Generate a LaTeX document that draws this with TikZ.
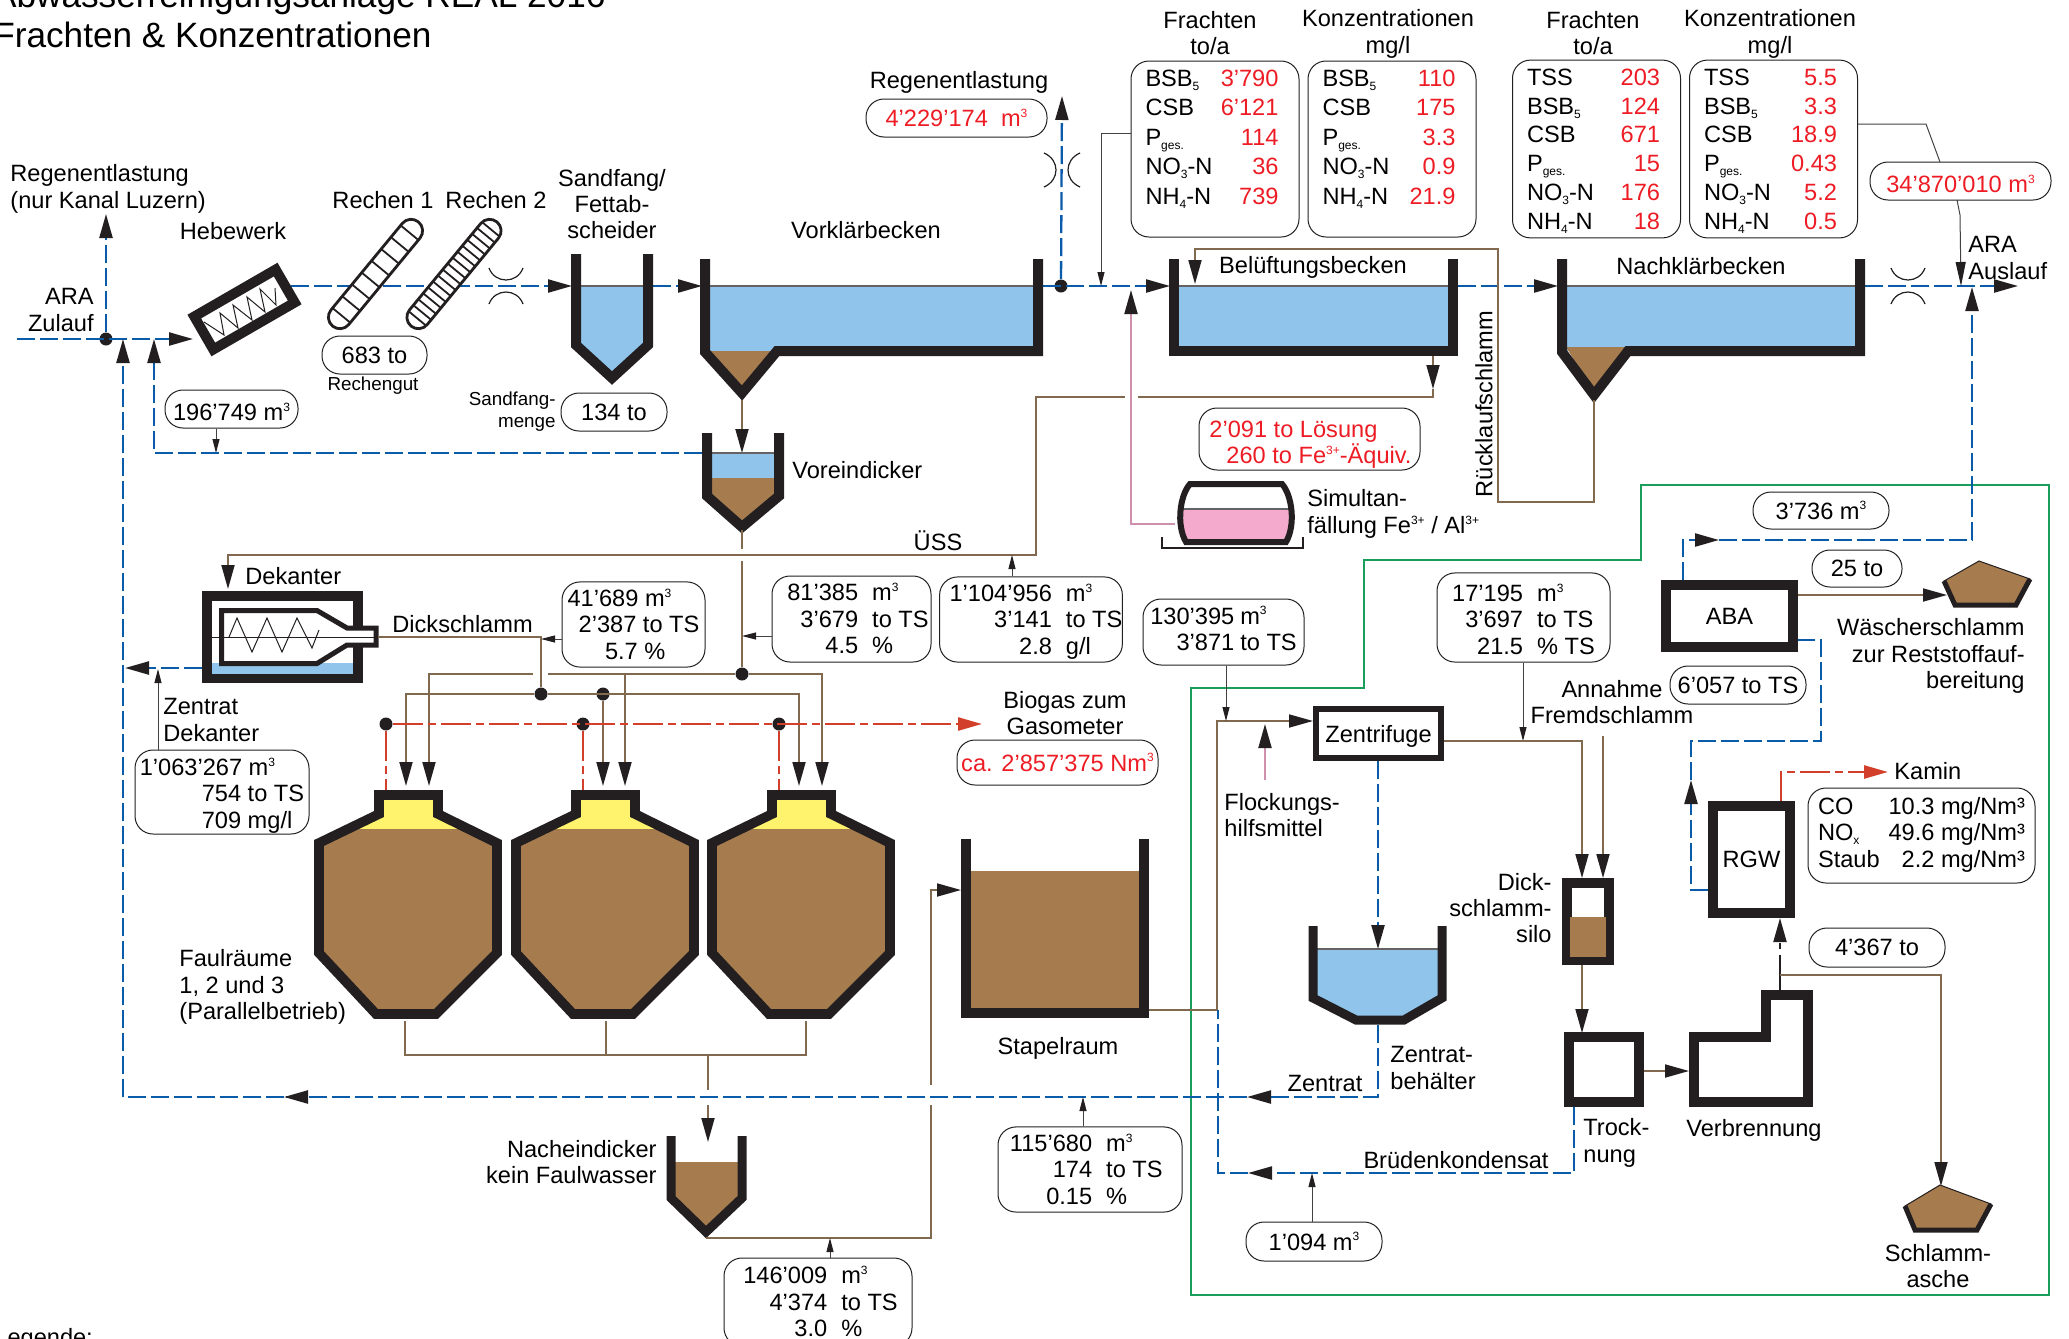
\documentclass[tikz,border=0pt]{standalone}
\usepackage{fontspec}
\setmainfont{Liberation Sans}
\usetikzlibrary{arrows.meta}
\definecolor{tusche}{HTML}{231F20}
\definecolor{wasserblau}{HTML}{90C4EA}
\definecolor{schlammbraun}{HTML}{A67C4E}
\definecolor{gasgelb}{HTML}{FFF36D}
\definecolor{fellrosa}{HTML}{F4AACC}
\definecolor{wertrot}{HTML}{ED1C24}
\definecolor{gasrot}{HTML}{D2402C}
\definecolor{leitblau}{HTML}{0A5BAA}
\definecolor{leitbraun}{HTML}{80694F}
\definecolor{rahmengruen}{HTML}{1A9E5C}
\newcommand{\wert}[1]{\textcolor{wertrot}{#1}}
\newcommand{\hoch}[1]{\raisebox{4.6pt}{\fontsize{6}{6}\selectfont #1}}
\newcommand{\tief}[1]{\raisebox{-2pt}{\fontsize{6}{6}\selectfont #1}}
\begin{document}
\begin{tikzpicture}[
    x=0.5pt,
    y=-0.5pt,
    >={Triangle[length=12pt,width=6.5pt,color=tusche]},
    font=\fontsize{11.8}{13.2}\selectfont,
    becken/.style={
        draw=tusche,
        line width=5pt,
        line join=miter
    },
    einheit/.style={
        draw=tusche,
        line width=5pt,
        fill=white,
        inner sep=0pt,
        align=center
    },
    wasser/.style={fill=wasserblau},
    schlamm/.style={fill=schlammbraun},
    pegel/.style={draw=tusche!70,line width=0.6pt},
    blauleitung/.style={
        draw=leitblau,
        line width=1.15pt,
        dash pattern=on 9pt off 2.5pt
    },
    braunleitung/.style={draw=leitbraun,line width=0.9pt},
    gasleitung/.style={
        draw=gasrot,
        line width=1.3pt,
        dash pattern=on 15pt off 2.5pt on 4pt off 2.5pt
    },
    fuehrung/.style={
        draw=tusche!85,
        line width=0.5pt,
        -{Triangle[length=7pt,width=3.5pt,color=tusche]}
    },
    wertbox/.style={
        draw=tusche,
        line width=0.5pt,
        rounded corners=9pt,
        inner sep=0pt,
        align=center
    },
    lastbox/.style={
        wertbox,
        minimum width=84pt,
        minimum height=88pt,
        font=\fontsize{11.8}{14.75}\selectfont
    },
    rechen/.style={
        draw=tusche,
        line width=1.4pt,
        fill=white,
        rounded corners=5.75pt,
        rotate=50.5,
        minimum width=67.5pt,
        minimum height=11.5pt,
        inner sep=0pt
    },
    etikett/.style={inner sep=0pt,align=center},
    links/.style={inner sep=0pt,align=left,anchor=west},
    rechts/.style={inner sep=0pt,align=right,anchor=east},
    klein/.style={font=\fontsize{9.4}{11}\selectfont},
    punkt/.style={
        circle,
        fill=tusche,
        inner sep=0pt,
        minimum size=6.5pt
    },
    titel/.style={
        inner sep=0pt,
        anchor=base east,
        font=\fontsize{17.6}{20}\selectfont
    }
]
    \useasboundingbox (0,0) rectangle (2069,1339);

    \node[titel] (titel-a) at (606,7) {Abwasserreinigungsanlage REAL 2016};
    \node[titel] (titel-b) at (432,47) {Frachten \& Konzentrationen};
    \node[inner sep=0pt,anchor=base west] (legende) at (-6,1345) {Legende:};

    \draw[rahmengruen,line width=1.3pt]
        (2049,485) -- (2049,1295) -- (1191,1295) -- (1191,688)
        -- (1364,688) -- (1364,560) -- (1641,560) -- (1641,485) -- cycle;

    \coordinate (zulauf) at (17,339);
    \coordinate (hebewerk-ein) at (193,339);
    \coordinate (hebewerk-aus) at (291,286);
    \coordinate (sandfang-ein) at (572,286);
    \coordinate (sandfang-aus) at (653,286);
    \coordinate (vorklaer-ein) at (702,286);
    \coordinate (vorklaer-aus) at (1043,286);
    \coordinate (belueft-ein) at (1170,286);
    \coordinate (belueft-aus) at (1458,286);
    \coordinate (nachklaer-ein) at (1558,286);
    \coordinate (nachklaer-aus) at (1865,286);
    \coordinate (auslauf) at (2018,286);
    \coordinate (entl-kanal) at (106,214);
    \coordinate (entl-regen) at (1062,96);
    \coordinate (voreind-ein) at (702,453);
    \coordinate (rueck-hebewerk) at (154,339);
    \coordinate (rueck-zulauf) at (123,339);
    \coordinate (rueck-ecke) at (123,1097);
    \coordinate (dek-zentrat) at (202,668);
    \coordinate (dek-zentrat-ziel) at (125,668);
    \coordinate (zentrat-behaelter) at (1378,1025);
    \coordinate (zentrat-ziel) at (1378,1097);

    \node[punkt] (knoten-zulauf) at (106,339) {};
    \node[punkt] (knoten-regen) at (1061,286) {};

    \draw[blauleitung,->] (zulauf) -- (hebewerk-ein);
    \draw[blauleitung,->] (knoten-zulauf) -- (entl-kanal);
    \draw[blauleitung,->] (knoten-regen) -- (entl-regen);
    \draw[blauleitung,->] (hebewerk-aus) -- (sandfang-ein);
    \draw[blauleitung,->] (sandfang-aus) -- (vorklaer-ein);
    \draw[blauleitung,->] (vorklaer-aus) -- (belueft-ein);
    \draw[blauleitung,->] (belueft-aus) -- (nachklaer-ein);
    \draw[blauleitung,->] (nachklaer-aus) -- (auslauf);
    \draw[blauleitung,->] (voreind-ein) -- (154,453) -- (rueck-hebewerk);
    \draw[blauleitung,->] (rueck-ecke) -- (rueck-zulauf);
    \draw[blauleitung,->] (zentrat-behaelter) -- (zentrat-ziel) -- (1247,1097);
    \draw[blauleitung] (1247,1097) -- (284,1097);
    \draw[blauleitung,<-] (284,1097) -- (300,1097);
    \draw[blauleitung] (284,1097) -- (rueck-ecke);
    \draw[blauleitung,->] (dek-zentrat) -- (dek-zentrat-ziel);

    \draw[tusche,line width=0.6pt] (489,268) .. controls (495,284) and (517,284) .. (523,268);
    \draw[tusche,line width=0.6pt] (489,304) .. controls (495,288) and (517,288) .. (523,304);
    \draw[tusche,line width=0.6pt] (1891,268) .. controls (1897,284) and (1919,284) .. (1925,268);
    \draw[tusche,line width=0.6pt] (1891,304) .. controls (1897,288) and (1919,288) .. (1925,304);
    \draw[tusche,line width=0.6pt] (1044,153) .. controls (1060,160) and (1060,180) .. (1044,187);
    \draw[tusche,line width=0.6pt] (1080,153) .. controls (1064,160) and (1064,180) .. (1080,187);

    \node[einheit,rotate=30,minimum width=47pt,minimum height=19pt]
        (hebewerk) at (244.5,309.5) {};
    \draw[tusche,line width=0.5pt]
        (204,322) -- (224,335) -- (220,313) -- (238,328) -- (233,305) -- (252,320)
        -- (247,297) -- (265,312) -- (260,289) -- (276,305) -- (275,288);

    \node[rechen] (rechen-a) at (375.5,274) {};
    \node[rechen] (rechen-b) at (454,274) {};
    \begin{scope}[shift={(375.5,274)},rotate=50.5]
        \foreach \i in {-53.6,-38.3,...,54}
            \draw[tusche,line width=0.9pt] (\i,-11.5) -- (\i,11.5);
    \end{scope}
    \begin{scope}[shift={(454,274)},rotate=50.5]
        \foreach \i in {-57.6,-49.9,...,58}
            \draw[tusche,line width=0.9pt] (\i,-11.5) -- (\i,11.5);
    \end{scope}

    \fill[wasser] (576,286) -- (648,286) -- (648,345) -- (612,378) -- (576,345) -- cycle;
    \draw[pegel] (576,286) -- (648,286);
    \draw[becken] (576,254) -- (576,345) -- (612,378) -- (648,345) -- (648,254);

    \fill[wasser] (705,286) -- (1038,286) -- (1038,351) -- (705,351) -- cycle;
    \fill[schlamm] (708,351) -- (776,351) -- (742,392) -- cycle;
    \draw[pegel] (705,286) -- (1038,286);
    \draw[becken] (705,259) -- (705,352) -- (742,393) -- (777,351) -- (1038,351) -- (1038,259);

    \coordinate (vorklaer-ab) at (742,400);
    \coordinate (voreind-zu) at (742,453);
    \draw[braunleitung,->] (vorklaer-ab) -- (voreind-zu);

    \fill[wasser] (707,453) -- (779,453) -- (779,478) -- (707,478) -- cycle;
    \fill[schlamm] (707,478) -- (779,478) -- (779,496) -- (742,527) -- (707,496) -- cycle;
    \draw[pegel] (707,453) -- (779,453);
    \draw[becken] (707,433) -- (707,496) -- (742,527) -- (779,496) -- (779,433);

    \fill[wasser] (1174,286) -- (1453,286) -- (1453,351) -- (1174,351) -- cycle;
    \draw[pegel] (1174,286) -- (1453,286);
    \draw[becken] (1174,259) -- (1174,351) -- (1453,351) -- (1453,259);

    \fill[wasser] (1562,286) -- (1860,286) -- (1860,351) -- (1562,351) -- cycle;
    \fill[schlamm] (1566,347) -- (1626,347) -- (1594,392) -- cycle;
    \draw[pegel] (1562,286) -- (1860,286);
    \draw[becken] (1562,259) -- (1562,352) -- (1594,395) -- (1628,351) -- (1860,351) -- (1860,259);

    \coordinate (nachklaer-ab) at (1594,400);
    \coordinate (ruecklauf-ziel) at (1195,284);
    \draw[braunleitung,->] (nachklaer-ab) -- (1594,502) -- (1498,502)
        -- (1498,249) -- (1195,249) -- (ruecklauf-ziel);

    \coordinate (uess-ab) at (1433,356);
    \coordinate (uess-spitze) at (1433,389);
    \coordinate (dekanter-ein) at (228,589);
    \draw[braunleitung,->] (uess-ab) -- (uess-spitze);
    \draw[braunleitung] (uess-spitze) -- (1433,397) -- (1138,397);
    \draw[braunleitung,->] (1125,397) -- (1036,397) -- (1036,555) -- (228,555) -- (dekanter-ein);

    \coordinate (tank-ab) at (1175,524);
    \coordinate (tank-ziel) at (1131,290);
    \draw[draw=fellrosa!85!black,line width=1pt,->] (tank-ab) -- (1131,524) -- (tank-ziel);

    \fill[fill=fellrosa] (1180,509) -- (1292,509) .. controls (1293,525) and (1291,535) .. (1287,541)
        -- (1186,541) .. controls (1181,535) and (1179,525) .. (1180,509) -- cycle;
    \draw[pegel] (1180,509) -- (1292,509);
    \draw[tusche,line width=3pt]
        (1190,484) -- (1282,484) .. controls (1292,495) and (1296,525) .. (1286,542)
        -- (1186,542) .. controls (1176,525) and (1180,495) .. (1190,484) -- cycle;
    \draw[tusche,line width=1pt] (1162,537) -- (1162,548) -- (1303,548) -- (1303,537);

    \node[lastbox] (frachten-a) at (1215,149)
        {\hspace*{-3pt}\begin{tabular*}{66.5pt}{@{}l@{\extracolsep{\fill}}r@{}}
         BSB\tief{5} & \wert{3'790}\\
         CSB & \wert{6'121}\\
         P\tief{ges.} & \wert{114}\\
         NO\tief{3}-N & \wert{36}\\
         NH\tief{4}-N & \wert{739}\\[-5pt]
         &
         \end{tabular*}};
    \node[lastbox] (konz-a) at (1392,149)
        {\hspace*{-3pt}\begin{tabular*}{66.5pt}{@{}l@{\extracolsep{\fill}}r@{}}
         BSB\tief{5} & \wert{110}\\
         CSB & \wert{175}\\
         P\tief{ges.} & \wert{3.3}\\
         NO\tief{3}-N & \wert{0.9}\\
         NH\tief{4}-N & \wert{21.9}\\[-5pt]
         &
         \end{tabular*}};
    \node[lastbox,font=\fontsize{11.8}{14.4}\selectfont] (frachten-b) at (1596.5,149)
        {\hspace*{-3pt}\begin{tabular*}{66.5pt}{@{}l@{\extracolsep{\fill}}r@{}}
         \rule{0pt}{12.6pt}TSS & \wert{203}\\
         BSB\tief{5} & \wert{124}\\
         CSB & \wert{671}\\
         P\tief{ges.} & \wert{15}\\
         NO\tief{3}-N & \wert{176}\\
         NH\tief{4}-N & \wert{18}
         \end{tabular*}};
    \node[lastbox,font=\fontsize{11.8}{14.4}\selectfont] (konz-b) at (1773.5,149)
        {\hspace*{-3pt}\begin{tabular*}{66.5pt}{@{}l@{\extracolsep{\fill}}r@{}}
         \rule{0pt}{12.6pt}TSS & \wert{5.5}\\
         BSB\tief{5} & \wert{3.3}\\
         CSB & \wert{18.9}\\
         P\tief{ges.} & \wert{0.43}\\
         NO\tief{3}-N & \wert{5.2}\\
         NH\tief{4}-N & \wert{0.5}
         \end{tabular*}};

    \node[etikett] (kopf-fa) at (1210,33) {Frachten\\to/a};
    \node[etikett] (kopf-ka) at (1388,34) {Konzentrationen\\mg/l};
    \node[etikett] (kopf-fb) at (1593,33) {Frachten\\to/a};
    \node[etikett] (kopf-kb) at (1770,34) {Konzentrationen\\mg/l};

    \coordinate (messung-ein) at (1101,286);
    \draw[fuehrung] (frachten-a.west |- 0,133) -- (1101,133) -- (messung-ein);

    \node[wertbox,minimum width=90.5pt,minimum height=19pt] (auslaufmenge) at (1960.5,181)
        {\rule{0pt}{11.5pt}\wert{34'870'010 m\hoch{3}}};
    \coordinate (messung-aus) at (1961,286);
    \draw[tusche!85,line width=0.5pt] (konz-b.east |- 0,124) -- (1926,124) -- (1940,162);
    \draw[fuehrung,-{Triangle[length=12pt,width=5pt,color=tusche]}]
        (1957,200) -- (1960,215) -- (messung-aus);

    \node[wertbox,minimum width=90.5pt,minimum height=19pt] (regenmenge) at (956.5,118)
        {\wert{4'229'174~ m\hoch{3}}};
    \node[wertbox,minimum width=52.5pt,minimum height=19pt] (rechengut) at (374.5,355) {683 to};
    \node[wertbox,minimum width=53pt,minimum height=19pt] (sandmenge) at (614,412) {134 to};
    \node[wertbox,minimum width=66.5pt,minimum height=19pt] (rueckmenge) at (231.5,409)
        {\rule{0pt}{11.5pt}196'749 m\hoch{3}};
    \coordinate (rueckmenge-ziel) at (216,453);
    \draw[fuehrung] (rueckmenge.south -| rueckmenge-ziel) -- (rueckmenge-ziel);

    \node[wertbox,minimum width=110.5pt,minimum height=31pt,align=left] (faellmittel) at (1309.5,439)
        {\rule{0pt}{14.2pt}\hspace*{1pt}\wert{2'091 to Lösung}\\\hspace*{9.5pt}\wert{260 to Fe\hoch{3+}-Äquiv.}};

    \node[etikett] (t-regen) at (959,82) {Regenentlastung};
    \node[links] (t-kanal) at (10,189) {Regenentlastung\\(nur Kanal Luzern)};
    \node[etikett] (t-hebewerk) at (233,231) {Hebewerk};
    \node[etikett] (t-rechen-a) at (383,200) {Rechen 1};
    \node[etikett] (t-rechen-b) at (496,200) {Rechen 2};
    \node[etikett] (t-sandfang) at (612,204) {Sandfang/\\Fettab-\\scheider};
    \node[etikett] (t-vorklaer) at (866,230) {Vorklärbecken};
    \node[rechts] (t-zulauf) at (94,310) {ARA\\Zulauf};
    \node[etikett,klein] (t-rechengut) at (373,386) {Rechengut};
    \node[rechts,klein] (t-sandmenge) at (556,412) {Sandfang-\\menge};
    \node[links] (t-voreind) at (792,470) {Voreindicker};
    \node[etikett] (t-belueft) at (1313,267) {Belüftungsbecken};
    \node[etikett] (t-nachklaer) at (1701,266) {Nachklärbecken};
    \node[links] (t-auslauf) at (1968,258) {ARA\\Auslauf};
    \node[links] (t-simultan) at (1307,514) {Simultan-\\fällung Fe\hoch{3+} / Al\hoch{3+}};
    \node[etikett,rotate=90] (t-ruecklauf) at (1484,404) {Rücklaufschlamm};
    \node[etikett] (t-uess) at (938,541) {ÜSS};

    \node[einheit,minimum width=75.5pt,minimum height=41pt] (dekanter) at (282.5,637) {};
    \fill[wasser] (212,663) -- (353,663) -- (353,674) -- (212,674) -- cycle;
    \draw[tusche,line width=2.5pt,fill=white]
        (221.5,610.5) -- (317,610.5) -- (347,628) -- (376,628) -- (376,645)
        -- (347,645) -- (317,663.5) -- (221.5,663.5) -- cycle;
    \draw[tusche,line width=0.5pt]
        (229,637) -- (237,618) -- (252,652) -- (267,618) -- (282,652)
        -- (297,618) -- (312,648) -- (319,630);
    \draw[tusche,line width=0.5pt] (211,637) -- (374,637);
    \node[links] (t-dekanter) at (245,576) {Dekanter};
    \node[links] (t-dickschlamm) at (392,624) {Dickschlamm};
    \node[links] (t-zentratdek) at (163,720) {Zentrat\\Dekanter};

    \node[punkt] (knoten-dick) at (541,694) {};
    \node[punkt] (knoten-mitte) at (603,694) {};
    \node[punkt] (knoten-ues) at (742,674) {};
    \coordinate (dekanter-aus) at (378,637);
    \draw[braunleitung] (dekanter-aus) -- (541,637) -- (knoten-dick);
    \draw[braunleitung] (742,530) -- (742,549);
    \draw[braunleitung] (742,561) -- (knoten-ues);
    \draw[braunleitung,->] (533,674) -- (429,674) -- (429,786);
    \draw[braunleitung,->] (knoten-ues) -- (822,674) -- (822,786);
    \draw[braunleitung] (548,674) -- (knoten-ues);
    \draw[braunleitung,->] (625,674) -- (625,786);
    \draw[braunleitung,->] (knoten-dick) -- (406,694) -- (406,786);
    \draw[braunleitung,->] (knoten-dick) -- (799,694) -- (799,786);
    \draw[braunleitung,->] (knoten-mitte) -- (603,786);

    \node[punkt] (gas-a) at (386,724) {};
    \node[punkt] (gas-b) at (583,724) {};
    \node[punkt] (gas-c) at (779,724) {};
    \coordinate (gas-ziel) at (982,724);
    \draw[gasleitung,-{Triangle[length=12pt,width=6.5pt,color=gasrot]}] (gas-a) -- (gas-ziel);
    \draw[gasleitung] (gas-a) -- (386,790);
    \draw[gasleitung] (gas-b) -- (583,790);
    \draw[gasleitung] (gas-c) -- (779,790);

    \foreach \dx/\nr in {0/a,197/b,393/c}{
        \begin{scope}[shift={(\dx,0)}]
            \fill[gasgelb] (379,795) -- (379,814) -- (348,829) -- (469,829) -- (438,814) -- (438,795) -- cycle;
            \fill[schlamm] (348,829) -- (319,843) -- (319,953) -- (376,1014)
                -- (436,1014) -- (497,953) -- (497,843) -- (469,829) -- cycle;
            \draw[becken,line width=4.8pt]
                (379,795) -- (379,814) -- (319,843) -- (319,953) -- (376,1014)
                -- (436,1014) -- (497,953) -- (497,843) -- (438,814) -- (438,795) -- cycle;
            \coordinate (faul-\nr) at (405,1021);
        \end{scope}
    }
    \coordinate (faul-ab) at (708,1055);
    \draw[braunleitung] (faul-a) -- (405,1055) -- (806,1055) -- (806,1021);
    \draw[braunleitung] (606,1021) -- (606,1055);
    \draw[braunleitung] (faul-ab) -- (708,1090);
    \coordinate (nachein-zu) at (708,1142);
    \draw[braunleitung,->] (708,1105) -- (nachein-zu);

    \fill[schlamm] (671,1162) -- (742,1162) -- (742,1198) -- (706,1232) -- (671,1198) -- cycle;
    \draw[becken,line width=4.5pt] (671,1136) -- (671,1198) -- (706,1232) -- (742,1198) -- (742,1136);

    \fill[schlamm] (966,871) -- (1144,871) -- (1144,1013) -- (966,1013) -- cycle;
    \draw[becken] (966,839) -- (966,1013) -- (1144,1013) -- (1144,839);

    \coordinate (nachein-ab) at (706,1238);
    \coordinate (stapel-ein) at (961,890);
    \draw[braunleitung] (nachein-ab) -- (931,1238) -- (931,1105);
    \draw[braunleitung,->] (931,1085) -- (931,890) -- (stapel-ein);

    \node[rechts] (t-nachein) at (657,1162) {Nacheindicker\\kein Faulwasser};
    \node[links] (t-faul) at (179,987) {Faulräume\\1, 2 und 3\\(Parallelbetrieb)};
    \node[etikett] (t-stapel) at (1058,1048) {Stapelraum};
    \node[etikett] (t-biogas) at (1065,713) {Biogas zum\\Gasometer};

    \node[wertbox,minimum width=71.5pt,minimum height=42.5pt] (menge-dick) at (633.5,624.5)
        {\begin{tabular}{@{}r@{}}\rule{0pt}{12.2pt}41'689 m\hoch{3}\hspace*{14pt}\\2'387 to TS\\5.7 \%\hspace*{17pt}\end{tabular}};
    \draw[fuehrung] (menge-dick.west |- 0,639) -- (541,639);
    \node[wertbox,minimum width=79.5pt,minimum height=43pt] (menge-ues) at (851.5,619)
        {\hspace*{6.5pt}\begin{tabular}{@{}r@{\hspace{7pt}}l@{}}\rule{0pt}{12.2pt}81'385 & m\hoch{3}\\3'679 & to TS\\4.5 & \%\end{tabular}};
    \draw[fuehrung] (menge-ues.west |- 0,636) -- (knoten-ues |- 0,636);
    \node[wertbox,minimum width=91pt,minimum height=42.5pt] (menge-gesamt) at (1031,619.5)
        {\hspace*{5pt}\begin{tabular}{@{}r@{\hspace{7pt}}l@{}}\rule{0pt}{12.2pt}1'104'956 & m\hoch{3}\\3'141 & to TS\\2.8 & g/l\end{tabular}};
    \draw[fuehrung] (menge-gesamt.north -| 1012,0) -- (1012,555);
    \node[wertbox,minimum width=87pt,minimum height=42pt,align=left] (menge-zentrat) at (222,792)
        {\rule{0pt}{12.2pt}1'063'267 m\hoch{3}\\\hspace*{31pt}754 to TS\\\hspace*{31pt}709 mg/l};
    \draw[fuehrung] (menge-zentrat.north -| 158,0) -- (158,669);
    \node[wertbox,minimum width=100.5pt,minimum height=22.5pt] (menge-biogas) at (1057.5,762.5)
        {\wert{ca. 2'857'375 Nm\hoch{3}}};
    \node[wertbox,minimum width=92pt,minimum height=40.5pt] (menge-stapel) at (1090,1169.5)
        {\hspace*{-3.7pt}\begin{tabular}{@{}r@{\hspace{7pt}}l@{}}\rule{0pt}{12.2pt}115'680 & m\hoch{3}\\174 & to TS\\0.15 & \%\end{tabular}};
    \draw[fuehrung] (menge-stapel.north -| 1083,0) -- (1083,1097);
    \node[wertbox,minimum width=94pt,minimum height=44pt] (menge-nachein) at (818,1302)
        {\hspace*{2.5pt}\begin{tabular}{@{}r@{\hspace{7pt}}l@{}}\rule{0pt}{12.2pt}146'009 & m\hoch{3}\\4'374 & to TS\\3.0 & \%\end{tabular}};
    \draw[fuehrung] (menge-nachein.north -| 830,0) -- (830,1238);

    \node[einheit,line width=3pt,minimum width=62.5pt,minimum height=24.5pt] (zentrifuge) at (1378.5,733.5) {\rule{0pt}{11.9pt}Zentrifuge};
    \node[wertbox,minimum width=80.5pt,minimum height=33pt] (menge-eingang) at (1223.5,632)
        {\begin{tabular}{@{}r@{\hspace{3pt}}l@{}}130'395 & m\hoch{3}\\3'871 & to TS\end{tabular}};
    \node[wertbox,minimum width=86.5pt,minimum height=39.5pt] (menge-fremd) at (1523.5,617.5)
        {\begin{tabular}{@{}r@{\hspace{7pt}}l@{}}\rule{0pt}{14.2pt}17'195 & m\hoch{3}\\3'697 & to TS\\21.5 & \% TS\end{tabular}};
    \coordinate (stapel-aus) at (1149,1010);
    \coordinate (zentrifuge-ein) at (1313,721);
    \coordinate (fremd-ein) at (1523,741);
    \draw[braunleitung,->] (stapel-aus) -- (1217,1010) -- (1217,721) -- (zentrifuge-ein);
    \draw[fuehrung] (menge-eingang.south -| 1226,0) -- (1226,721);
    \draw[fuehrung] (menge-fremd.south -| fremd-ein) -- (fremd-ein);
    \draw[draw=fellrosa!85!black,line width=1pt,->] (1265,780) -- (1265,724);
    \node[links] (t-flock) at (1224,815) {Flockungs-\\hilfsmittel};

    \fill[wasser] (1313,949) -- (1442,949) -- (1442,998) -- (1404,1020) -- (1356,1020) -- (1313,998) -- cycle;
    \draw[pegel] (1313,949) -- (1442,949);
    \draw[becken,line width=4.5pt] (1313,926) -- (1313,998) -- (1356,1020) -- (1404,1020) -- (1442,998) -- (1442,926);
    \coordinate (behaelter-ein) at (1378,949);
    \draw[blauleitung,->] (zentrifuge.south -| behaelter-ein) -- (behaelter-ein);
    \node[links] (t-behaelter) at (1390,1068) {Zentrat-\\behälter};
    \node[etikett] (t-zentrat) at (1325,1083) {Zentrat};

    \node[einheit,line width=4.8pt,minimum width=21pt,minimum height=38.5pt] (silo) at (1588,921.5) {};
    \fill[schlamm] (1570,917) -- (1606,917) -- (1606,957) -- (1570,957) -- cycle;
    \node[rechts] (t-silo) at (1552,908) {Dick-\\schlamm-\\silo};
    \coordinate (silo-ein-a) at (1582,878);
    \coordinate (silo-ein-b) at (1603,878);
    \draw[braunleitung,->] (zentrifuge.east |- 0,741) -- (1582,741) -- (silo-ein-a);
    \draw[braunleitung,->] (1603,736) -- (silo-ein-b);
    \node[etikett] (t-annahme) at (1612,702) {Annahme\\Fremdschlamm};
    \node[wertbox,minimum width=68pt,minimum height=19pt] (menge-annahme) at (1738,685) {6'057 to TS};

    \node[einheit,minimum width=35pt,minimum height=32.5pt] (trocknung) at (1604,1069.5) {};
    \coordinate (trocknung-ein) at (1582,1033);
    \draw[braunleitung,->] (silo.south -| trocknung-ein) -- (trocknung-ein);
    \draw[becken,fill=white] (1694,1102) -- (1694,1037) -- (1766,1037) -- (1766,995) -- (1808,995) -- (1808,1102) -- cycle;
    \coordinate (verbrennung-ein) at (1689,1071);
    \coordinate (verbrennung-aus) at (1780,990);
    \draw[braunleitung,->] (trocknung.east |- verbrennung-ein) -- (verbrennung-ein);
    \node[links] (t-trocknung) at (1583,1143) {Trock-\\nung};
    \node[etikett] (t-verbrennung) at (1754,1130) {Verbrennung};

    \coordinate (bruede-ziel) at (1248,1173);
    \draw[blauleitung,->] (trocknung.south -| 1574,0) -- (1574,1173) -- (bruede-ziel);
    \draw[blauleitung] (bruede-ziel) -- (1218,1173) -- (1218,1010);
    \node[etikett] (t-bruede) at (1456,1160) {Brüdenkondensat};
    \node[wertbox,minimum width=68pt,minimum height=19.5pt] (menge-bruede) at (1314,1241.5) {1'094 m\hoch{3}};
    \draw[fuehrung] (menge-bruede.north -| 1312,0) -- (1312,1173);

    \node[einheit,minimum width=63.5pt,minimum height=31pt] (aba) at (1729.5,616) {ABA};
    \node[einheit,minimum width=38.5pt,minimum height=53.5pt] (rgw) at (1751.5,859.5) {RGW};

    \draw[tusche,line width=1pt] (verbrennung-aus) -- (1780,975);
    \draw[tusche,line width=1pt,dash pattern=on 10pt off 3pt on 3pt off 3pt,->] (1780,975) -- (rgw.south -| 1780,0);
    \coordinate (asche-ein) at (1941,1186);
    \draw[braunleitung,->] (1780,975) -- (1941,975) -- (asche-ein);

    \coordinate (kamin-ziel) at (1888,772);
    \draw[gasleitung,-{Triangle[length=12pt,width=6.5pt,color=gasrot]}] (rgw.north -| 1781,0) -- (1781,772) -- (kamin-ziel);
    \node[links] (t-kamin) at (1894,771) {Kamin};

    \node[wertbox,minimum width=113.5pt,minimum height=47.5pt] (abgas) at (1921.5,835.5)
        {\begin{tabular*}{103.5pt}{@{}l@{\extracolsep{\fill}}r@{}}CO & 10.3 mg/Nm³\\NO\tief{x} & 49.6 mg/Nm³\\Staub & 2.2 mg/Nm³\end{tabular*}};
    \node[wertbox,minimum width=68pt,minimum height=19.5pt] (menge-asche) at (1877,947.5) {4'367 to};

    \node[wertbox,minimum width=68pt,minimum height=18.5pt] (menge-aba) at (1821,510.5) {3'736 m\hoch{3}};
    \node[wertbox,minimum width=45pt,minimum height=18.5pt] (menge-waescher) at (1857,568.5) {25 to};
    \coordinate (aba-spitze) at (1719,540);
    \coordinate (aba-zurueck) at (1972,287);
    \draw[blauleitung,->] (aba.north -| 1683,0) -- (1683,540) -- (aba-spitze);
    \draw[blauleitung,->] (aba-spitze) -- (1972,540) -- (aba-zurueck);

    \coordinate (rgw-spitze) at (1691,780);
    \draw[blauleitung,->] (rgw.west |- 0,890) -- (1691,890) -- (rgw-spitze);
    \draw[blauleitung] (rgw-spitze) -- (1691,741) -- (1821,741) -- (1821,640) -- (aba.east |- 0,640);

    \coordinate (waescher-ein) at (1947,595);
    \draw[braunleitung,->] (aba.east |- waescher-ein) -- (waescher-ein);

    \fill[schlamm,draw=tusche,line width=0.5pt] (1944,581) -- (1979,561) -- (2030,579) -- (2016,605) -- (1955,605) -- cycle;
    \draw[tusche,line width=2.5pt] (1944,581) -- (1955,605) -- (2016,605) -- (2030,579);
    \node[rechts] (t-waescher) at (2025,656) {Wäscherschlamm\\zur Reststoffauf-\\bereitung};

    \fill[schlamm,draw=tusche,line width=0.5pt] (1905,1206) -- (1940,1185) -- (1991,1204) -- (1977,1230) -- (1915,1230) -- cycle;
    \draw[tusche,line width=2.5pt] (1905,1206) -- (1915,1230) -- (1977,1230) -- (1991,1204);
    \node[etikett] (t-asche) at (1938,1266) {Schlamm-\\asche};
\end{tikzpicture}
\end{document}
